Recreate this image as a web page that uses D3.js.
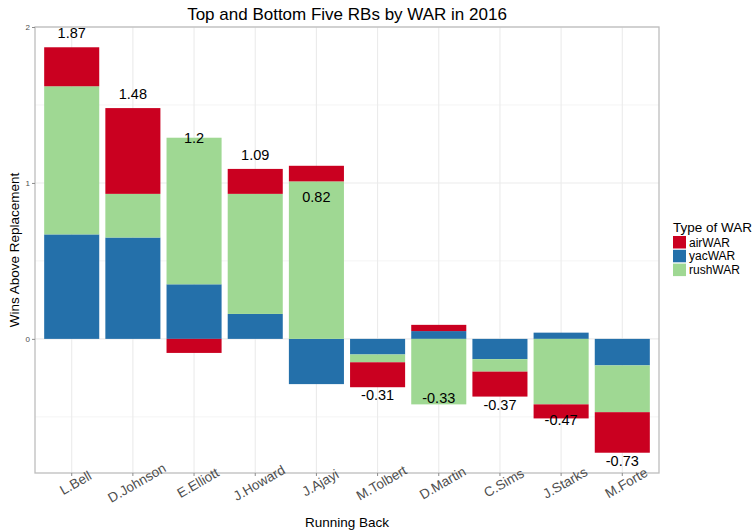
<!DOCTYPE html>
<html>
<head>
<meta charset="utf-8">
<script src="https://cdn.jsdelivr.net/npm/d3@7"></script>
<style>
    body { margin: 0; background: #fff; }
    text { font-family: "Liberation Sans", Arial, sans-serif; }
</style>
</head>
<body>
<svg width="756" height="532"></svg>
<script>
const players = ["L.Bell", "D.Johnson", "E.Elliott", "J.Howard", "J.Ajayi",
    "M.Tolbert", "D.Martin", "C.Sims", "J.Starks", "M.Forte"];
const airWAR = [0.25, 0.55, -0.09, 0.16, 0.10, -0.16, 0.04, -0.16, -0.09, -0.26];
const yacWAR = [0.67, 0.65, 0.35, 0.16, -0.29, -0.10, 0.05, -0.13, 0.04, -0.17];
const rushWAR = [0.95, 0.28, 0.94, 0.77, 1.01, -0.05, -0.42, -0.08, -0.42, -0.30];
const war_types = ["airWAR", "yacWAR", "rushWAR"];
const stack_order = ["yacWAR", "rushWAR", "airWAR"];
const war_colours = {"airWAR": "#ca0020", "yacWAR": "#2470aa", "rushWAR": "#9fd893"};
const y_ticks = [0, 1, 2];
const y_minor = [-0.5, 0.5, 1.5];

const margin = {left: 35, top: 27, right: 97, bottom: 59};

function draw() {
    let svg = d3.select("svg");
    let width = +svg.attr("width");
    let height = +svg.attr("height");
    let x0 = margin.left, x1 = width - margin.right;
    let y0 = margin.top, y1 = height - margin.bottom;

    let rows = players.map(function (p, i) {
        return {player: p, airWAR: airWAR[i], yacWAR: yacWAR[i], rushWAR: rushWAR[i]};
    });
    rows.forEach(function (d) {
        d.total = Math.round((d.airWAR + d.yacWAR + d.rushWAR) * 100) / 100;
    });

    let x = d3.scaleBand().domain(players).range([x0, x1])
        .paddingInner(0.1).paddingOuter(0.15);
    let y = d3.scaleLinear().domain([-0.86, 2.0]).range([y1, y0]);

    //grid
    let grid = svg.append("g");
    grid.selectAll(".minor").data(y_minor).enter().append("line")
        .attr("x1", x0).attr("x2", x1)
        .attr("y1", d => y(d)).attr("y2", d => y(d))
        .attr("stroke", "#f4f4f4").attr("stroke-width", 1);
    grid.selectAll(".major").data(y_ticks).enter().append("line")
        .attr("x1", x0).attr("x2", x1)
        .attr("y1", d => y(d)).attr("y2", d => y(d))
        .attr("stroke", "#ebebeb").attr("stroke-width", 1.1);
    grid.selectAll(".vmajor").data(players).enter().append("line")
        .attr("x1", d => x(d) + x.bandwidth() / 2).attr("x2", d => x(d) + x.bandwidth() / 2)
        .attr("y1", y0).attr("y2", y1)
        .attr("stroke", "#ebebeb").attr("stroke-width", 1.1);

    //stacked bars
    let series = d3.stack().keys(stack_order)
        .offset(d3.stackOffsetDiverging)(rows);

    svg.append("g").selectAll("g").data(series).enter().append("g")
        .attr("fill", d => war_colours[d.key])
        .selectAll("rect").data(d => d).enter().append("rect")
        .attr("x", d => x(d.data.player))
        .attr("width", x.bandwidth())
        .attr("y", d => y(Math.max(d[0], d[1])))
        .attr("height", d => Math.abs(y(d[0]) - y(d[1])));

    //total labels
    svg.append("g").selectAll("text").data(rows).enter().append("text")
        .attr("x", d => x(d.player) + x.bandwidth() / 2)
        .attr("y", d => y(d.total) + (d.total >= 0 ? -14 : 8))
        .attr("dominant-baseline", "central")
        .attr("text-anchor", "middle")
        .style("font-size", "14.5px")
        .attr("fill", "#000")
        .text(d => String(d.total));

    //panel border
    svg.append("rect")
        .attr("x", x0).attr("y", y0)
        .attr("width", x1 - x0).attr("height", y1 - y0)
        .attr("fill", "none").attr("stroke", "#bdbdbd").attr("stroke-width", 1.3);

    //y axis
    let y_axis = svg.append("g").attr("transform", "translate(" + x0 + ",0)")
        .call(d3.axisLeft(y).tickValues(y_ticks).tickSize(3).tickPadding(2).tickFormat(d3.format("d")));
    y_axis.select(".domain").remove();
    y_axis.selectAll("line").attr("stroke", "#8c8c8c");
    y_axis.selectAll("text").style("font-size", "8px").attr("fill", "#4d4d4d");

    //x axis - labels centred under the tick, turned 30 degrees
    let x_axis = svg.append("g").attr("transform", "translate(0," + y1 + ")")
        .call(d3.axisBottom(x).tickSize(3).tickPadding(2));
    x_axis.select(".domain").remove();
    x_axis.selectAll("line").attr("stroke", "#8c8c8c");
    x_axis.selectAll("text")
        .style("font-size", "13.5px").attr("fill", "#4d4d4d")
        .attr("text-anchor", "middle")
        .attr("dominant-baseline", "central")
        .attr("dy", null)
        .attr("y", 0)
        .attr("transform", "translate(4,10) rotate(-30)");

    //titles
    svg.append("text")
        .attr("x", (x0 + x1) / 2).attr("y", 20)
        .attr("text-anchor", "middle")
        .style("font-size", "17px")
        .text("Top and Bottom Five RBs by WAR in 2016");
    svg.append("text")
        .attr("x", (x0 + x1) / 2).attr("y", 527)
        .attr("text-anchor", "middle")
        .style("font-size", "13.5px")
        .text("Running Back");
    svg.append("text")
        .attr("transform", "translate(19," + ((y0 + y1) / 2) + ") rotate(-90)")
        .attr("text-anchor", "middle")
        .style("font-size", "13.5px")
        .text("Wins Above Replacement");

    //legend
    let legend = svg.append("g").attr("transform", "translate(673,0)");
    legend.append("text")
        .attr("x", 0).attr("y", 232)
        .style("font-size", "13.5px")
        .text("Type of WAR");
    let keys = legend.selectAll(".key").data(war_types).enter().append("g")
        .attr("transform", (d, i) => "translate(0," + (236 + i * 13.8) + ")");
    keys.append("rect")
        .attr("width", 13).attr("height", 12.5)
        .attr("fill", d => war_colours[d]);
    keys.append("text")
        .attr("x", 16).attr("y", 6.5)
        .attr("dominant-baseline", "central")
        .style("font-size", "12px")
        .text(d => d);
}

draw();
</script>
</body>
</html>
